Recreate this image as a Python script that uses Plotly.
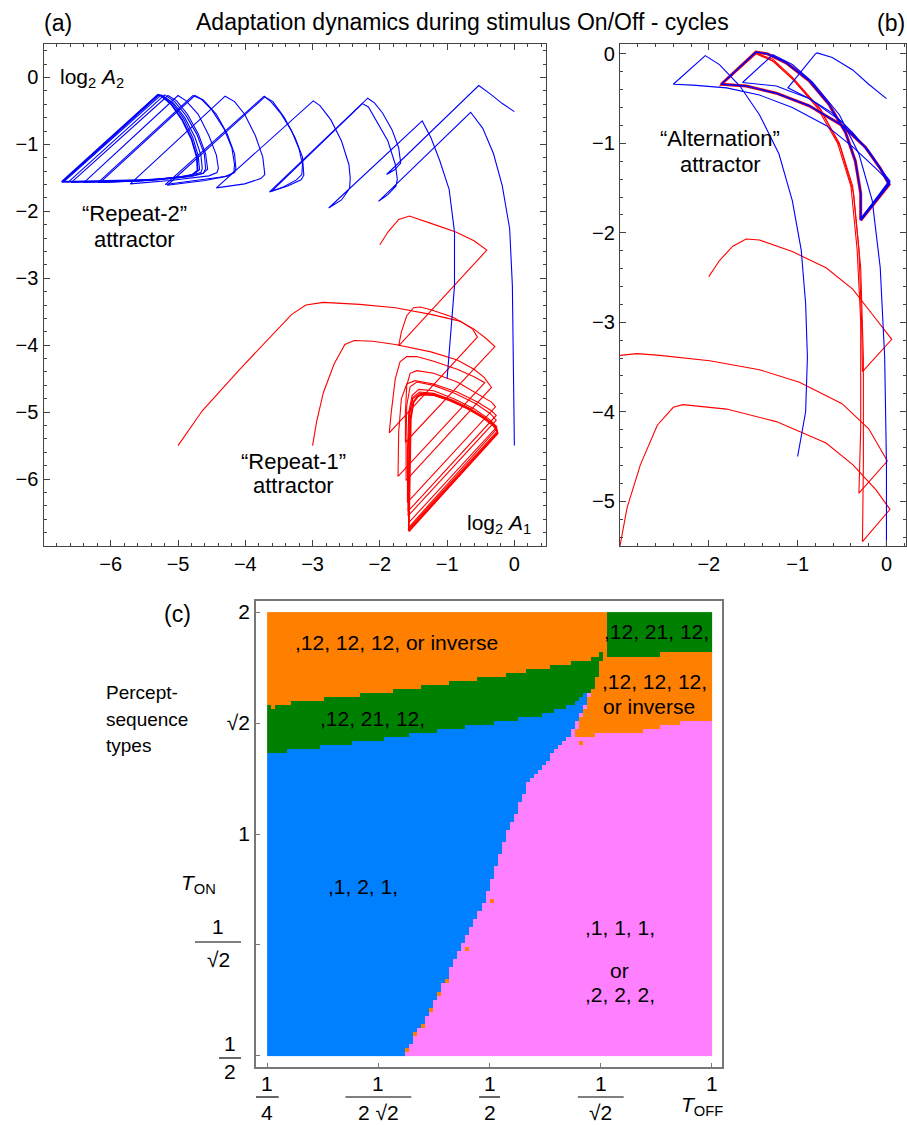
import numpy as np
import plotly.graph_objects as go

W, H = 907, 1125
FONT = "Liberation Sans, Arial, sans-serif"
BLUE, RED = "#0000FF", "#FF0000"

# ---------------- Panel (a): trajectories (log2 A1, log2 A2) ----------------
A_BLUE_1 = [(0, -0.51), (-0.18, -0.39), (-0.34, -0.26), (-0.53, -0.12),
            (-1.90, -1.45), (-1.78, -1.38), (-1.69, -1.28), (-1.72, -1.05), (-1.82, -0.78), (-1.96, -0.53), (-2.08, -0.38), (-2.18, -0.31),
            (-3.64, -1.71), (-3.42, -1.63), (-3.24, -1.53), (-3.16, -1.45), (-3.15, -1.30), (-3.20, -1.07), (-3.31, -0.80), (-3.47, -0.54), (-3.62, -0.36), (-3.72, -0.28),
            (-5.19, -1.60), (-4.70, -1.54), (-4.30, -1.48), (-4.16, -1.42), (-4.14, -1.36), (-4.16, -1.14), (-4.27, -0.84), (-4.43, -0.55), (-4.62, -0.34), (-4.75, -0.27),
            (-6.16, -1.57), (-5.49, -1.54), (-4.86, -1.48), (-4.63, -1.43), (-4.56, -1.37), (-4.59, -1.14), (-4.70, -0.84), (-4.86, -0.55), (-5.02, -0.35), (-5.15, -0.27),
            (-6.59, -1.57), (-5.90, -1.55), (-5.20, -1.51), (-4.80, -1.46), (-4.68, -1.38), (-4.70, -1.17), (-4.78, -0.90), (-4.92, -0.61), (-5.08, -0.39), (-5.22, -0.28), (-5.28, -0.26),
            (-6.71, -1.56)]
A_BLUE_2 = [(-1.0, -4.50), (-0.95, -3.91), (-0.89, -3.11), (-0.89, -2.31), (-0.97, -1.67), (-1.11, -1.24), (-1.24, -0.90), (-1.37, -0.65),
            (-2.76, -1.95), (-2.57, -1.83), (-2.45, -1.66), (-2.44, -1.50), (-2.46, -1.30), (-2.57, -0.95), (-2.73, -0.63), (-2.89, -0.42), (-2.99, -0.35),
            (-4.43, -1.65), (-4.01, -1.59), (-3.77, -1.51), (-3.71, -1.45), (-3.74, -1.19), (-3.85, -0.87), (-4.01, -0.55), (-4.16, -0.36), (-4.30, -0.28),
            (-5.71, -1.59), (-5.12, -1.54), (-4.54, -1.47), (-4.42, -1.42), (-4.40, -1.36), (-4.43, -1.16), (-4.54, -0.87), (-4.70, -0.55), (-4.88, -0.35), (-5.00, -0.27),
            (-6.40, -1.57), (-5.60, -1.55), (-4.90, -1.48), (-4.66, -1.42), (-4.64, -1.36), (-4.66, -1.16), (-4.75, -0.89), (-4.90, -0.60), (-5.07, -0.38), (-5.25, -0.26),
            (-6.70, -1.56)]
A_BLUE_3 = [(0, -5.50), (-0.02, -4.18), (-0.03, -3.11), (-0.07, -2.26), (-0.18, -1.62), (-0.31, -1.14), (-0.47, -0.76), (-0.65, -0.52),
            (-2.02, -1.85), (-1.88, -1.75), (-1.76, -1.62), (-1.74, -1.52), (-1.77, -1.30), (-1.88, -0.95), (-2.04, -0.66), (-2.17, -0.44), (-2.26, -0.39),
            (-3.61, -1.70), (-3.37, -1.62), (-3.17, -1.53), (-3.13, -1.46), (-3.15, -1.19), (-3.26, -0.90), (-3.42, -0.60), (-3.59, -0.36), (-3.71, -0.29),
            (-5.16, -1.61), (-4.60, -1.54), (-4.25, -1.47), (-4.17, -1.41), (-4.16, -1.30), (-4.20, -1.05), (-4.32, -0.76), (-4.50, -0.48), (-4.66, -0.32), (-4.78, -0.27),
            (-6.19, -1.57), (-5.40, -1.54), (-4.80, -1.48), (-4.62, -1.43), (-4.59, -1.36), (-4.61, -1.14), (-4.72, -0.85), (-4.88, -0.57), (-5.05, -0.36), (-5.20, -0.26),
            (-6.64, -1.57)]
A_BLUE_ATTR = [(-6.73, -1.56), (-6.03, -1.55), (-5.39, -1.53), (-4.96, -1.49), (-4.78, -1.45), (-4.71, -1.39), (-4.72, -1.19), (-4.80, -0.92),
               (-4.94, -0.63), (-5.10, -0.40), (-5.24, -0.28), (-5.30, -0.26), (-6.73, -1.56)]

A_RED_1 = [(-2.0, -2.50), (-1.88, -2.31), (-1.72, -2.12), (-1.56, -2.07), (-1.24, -2.18), (-0.87, -2.31), (-0.60, -2.44), (-0.41, -2.58),
           (-1.72, -4.01), (-1.68, -3.80), (-1.60, -3.56), (-1.50, -3.44), (-1.40, -3.43), (-1.24, -3.47), (-0.92, -3.58), (-0.60, -3.76), (-0.42, -3.90), (-0.29, -4.02),
           (-1.62, -5.45), (-1.62, -5.00), (-1.60, -4.60), (-1.55, -4.42), (-1.45, -4.38), (-1.20, -4.42), (-0.85, -4.55), (-0.55, -4.72), (-0.34, -4.85), (-0.28, -4.92),
           (-1.59, -6.35), (-1.59, -5.60), (-1.57, -5.00), (-1.52, -4.75), (-1.42, -4.66), (-1.20, -4.68), (-0.90, -4.80), (-0.60, -4.95), (-0.38, -5.10), (-0.26, -5.22),
           (-1.57, -6.65), (-1.56, -5.80), (-1.55, -5.10), (-1.50, -4.84), (-1.40, -4.74), (-1.20, -4.75), (-0.95, -4.83), (-0.70, -4.95), (-0.48, -5.08), (-0.32, -5.20), (-0.25, -5.30),
           (-1.57, -6.76)]
A_RED_2 = [(-5.0, -5.50), (-4.64, -4.98), (-4.11, -4.39), (-3.63, -3.88), (-3.31, -3.54), (-3.10, -3.40), (-2.84, -3.36), (-2.30, -3.39), (-1.77, -3.44),
           (-1.24, -3.54), (-0.81, -3.64), (-0.62, -3.76), (-0.55, -3.88),
           (-1.86, -5.31), (-1.83, -5.00), (-1.77, -4.50), (-1.70, -4.25), (-1.60, -4.17), (-1.45, -4.17), (-1.20, -4.24), (-0.85, -4.36), (-0.60, -4.47), (-0.44, -4.56),
           (-1.73, -5.96), (-1.72, -5.30), (-1.68, -4.80), (-1.60, -4.58), (-1.48, -4.53), (-1.20, -4.58), (-0.85, -4.70), (-0.55, -4.85), (-0.34, -4.98), (-0.27, -5.05),
           (-1.58, -6.48), (-1.58, -5.60), (-1.56, -5.00), (-1.51, -4.78), (-1.41, -4.70), (-1.20, -4.72), (-0.92, -4.82), (-0.65, -4.95), (-0.42, -5.10), (-0.26, -5.25),
           (-1.57, -6.72)]
A_RED_3 = [(-3.0, -5.50), (-2.94, -5.14), (-2.84, -4.71), (-2.68, -4.28), (-2.52, -3.99), (-2.38, -3.93), (-2.10, -3.94), (-1.77, -3.99), (-1.24, -4.10),
           (-0.85, -4.22), (-0.60, -4.36), (-0.45, -4.48), (-0.34, -4.63),
           (-1.61, -6.02), (-1.61, -5.40), (-1.60, -4.90), (-1.55, -4.62), (-1.45, -4.55), (-1.20, -4.60), (-0.88, -4.72), (-0.58, -4.87), (-0.36, -5.02), (-0.27, -5.12),
           (-1.58, -6.55), (-1.57, -5.70), (-1.56, -5.05), (-1.51, -4.80), (-1.40, -4.72), (-1.20, -4.73), (-0.95, -4.82), (-0.68, -4.94), (-0.45, -5.08), (-0.29, -5.20), (-0.25, -5.28),
           (-1.57, -6.74)]
A_RED_ATTR = [(-1.57, -6.78), (-1.56, -6.20), (-1.55, -5.60), (-1.54, -5.10), (-1.50, -4.85), (-1.43, -4.76), (-1.35, -4.73), (-1.20, -4.74),
              (-0.97, -4.82), (-0.72, -4.93), (-0.50, -5.05), (-0.34, -5.16), (-0.27, -5.25), (-0.25, -5.32), (-1.57, -6.78)]

# ---------------- Panel (b) ----------------
B_ALT_ATTR = [(-0.29, -1.86), (-0.29, -1.56), (-0.35, -1.20), (-0.46, -0.88), (-0.65, -0.56), (-0.87, -0.30), (-1.13, -0.10), (-1.34, 0.0), (-1.47, 0.02),
              (-1.86, -0.34), (-1.58, -0.36), (-1.24, -0.44), (-0.87, -0.58), (-0.50, -0.80), (-0.24, -1.04), (-0.07, -1.28), (0.03, -1.46), (-0.29, -1.86)]
B_BLUE_1 = [(0, -0.50), (-0.20, -0.34), (-0.38, -0.18), (-0.61, -0.04), (-0.78, 0.01), (-0.80, 0.0),
            (-1.11, -0.38), (-0.87, -0.50), (-0.61, -0.66), (-0.38, -0.88), (-0.20, -1.10), (-0.06, -1.30), (0.04, -1.42), (-0.29, -1.84)]
B_BLUE_2 = [(-1.0, -4.50), (-0.91, -4.00), (-0.89, -3.39), (-0.91, -2.79), (-0.96, -2.19), (-1.06, -1.64), (-1.21, -1.12), (-1.43, -0.68),
            (-1.65, -0.36), (-1.88, -0.12), (-2.04, -0.02), (-2.40, -0.34), (-2.18, -0.35), (-1.80, -0.38), (-1.43, -0.46), (-1.06, -0.60),
            (-0.68, -0.80), (-0.38, -1.04), (-0.12, -1.28), (0.04, -1.44), (-0.29, -1.86)]
B_BLUE_3 = [(0, -5.50), (0, -4.59), (-0.02, -3.39), (-0.07, -2.39), (-0.16, -1.64), (-0.31, -1.12), (-0.53, -0.68), (-0.83, -0.32), (-1.06, -0.12),
            (-1.28, -0.01), (-1.62, -0.32), (-1.24, -0.36), (-0.87, -0.50), (-0.50, -0.76), (-0.20, -1.08), (0.03, -1.42), (-0.29, -1.85)]
B_RED_1 = [(-2.0, -2.49), (-1.88, -2.31), (-1.73, -2.15), (-1.58, -2.07), (-1.43, -2.08), (-1.06, -2.21), (-0.68, -2.39), (-0.38, -2.63), (-0.16, -2.91), (0.06, -3.19),
           (-0.27, -3.55), (-0.28, -2.99), (-0.31, -2.19), (-0.38, -1.48), (-0.53, -1.00), (-0.76, -0.60), (-1.06, -0.26), (-1.28, -0.06), (-1.47, 0.01), (-1.88, -0.36)]
B_RED_2 = [(-3.0, -3.37), (-2.81, -3.35), (-2.55, -3.37), (-1.99, -3.43), (-1.43, -3.53), (-0.98, -3.67), (-0.50, -3.91), (-0.20, -4.19), (0.01, -4.55),
           (-0.31, -4.91), (-0.29, -4.19), (-0.29, -2.99), (-0.33, -2.19), (-0.40, -1.48), (-0.55, -1.00), (-0.78, -0.60), (-1.06, -0.28), (-1.28, -0.08), (-1.47, 0.0), (-1.87, -0.35)]
B_RED_3 = [(-3.0, -5.50), (-2.92, -5.07), (-2.77, -4.59), (-2.58, -4.15), (-2.40, -3.95), (-2.29, -3.92), (-1.80, -3.97), (-1.24, -4.11), (-0.68, -4.35), (-0.38, -4.59),
           (-0.12, -4.87), (0.04, -5.09), (-0.27, -5.45), (-0.26, -4.59), (-0.26, -3.39), (-0.29, -2.39), (-0.37, -1.56), (-0.52, -1.04), (-0.74, -0.62), (-1.04, -0.30),
           (-1.26, -0.09), (-1.46, 0.01), (-1.86, -0.35)]

# ---------------- Panel (c): region boundaries in log2 units ----------------
BP_Y = [-1.0, -0.82, -0.66, -0.45, -0.26, 0.0, 0.23, 0.34, 0.44, 0.57, 0.63]          # blue | pink boundary
BP_X = [-1.388, -1.284, -1.198, -1.095, -1.009, -0.922, -0.828, -0.733, -0.647, -0.578, -0.56]
GLO_X = [-2.0, -1.836, -1.560, -1.319, -0.974, -0.733, -0.629, -0.578]                  # green over blue
GLO_Y = [0.359, 0.383, 0.415, 0.452, 0.500, 0.543, 0.582, 0.630]
GUP_X = [-2.0, -1.836, -1.560, -1.319, -0.974, -0.716, -0.543, -0.50]                  # orange over green
GUP_Y = [0.578, 0.598, 0.630, 0.662, 0.710, 0.758, 0.790, 0.818]
RO_Y = [0.44, 0.58, 0.64, 0.71, 0.81]                                                 # right orange, left edge
RO_X = [-0.62, -0.57, -0.545, -0.517, -0.49]
PUP_X = [-0.612, -0.457, -0.319, -0.147, 0.0]                                         # pink top (right)
PUP_Y = [0.439, 0.452, 0.463, 0.500, 0.511]
GRL_X = [-0.483, -0.284, -0.112, 0.0]                                                 # top-right green bottom
GRL_Y = [0.802, 0.806, 0.818, 0.825]
GR_LEFT = -0.475
# isolated orange cells seen along the blue/pink border
SPECKLE_X = [-1.37, -1.33, -1.30, -1.26, -1.22, -1.19, -1.10, -0.99, -0.60, -1.98]
SPECKLE_Y = [-0.97, -0.90, -0.86, -0.79, -0.72, -0.67, -0.52, -0.30, 0.40, 0.57]
REGION_COLORS = ["#FF80FF", "#0080FF", "#008000", "#FF7F00"]  # pink, blue, green, orange

NX, NY = 110, 110
xe = np.linspace(-2, 0, NX + 1)
ye = np.linspace(-1, 1, NY + 1)
xc = (xe[:-1] + xe[1:]) / 2
yc = (ye[:-1] + ye[1:]) / 2
XX, YY = np.meshgrid(xc, yc)
Z = np.zeros_like(XX, dtype=int)
Z[XX < np.interp(YY, BP_Y, BP_X)] = 1
Z[YY >= np.interp(XX, GLO_X, GLO_Y)] = 2
Z[YY >= np.interp(XX, GUP_X, GUP_Y)] = 3
Z[(XX >= np.interp(YY, RO_Y, RO_X)) & (YY >= np.interp(XX, PUP_X, PUP_Y))] = 3
Z[(XX >= GR_LEFT) & (YY >= np.interp(XX, GRL_X, GRL_Y))] = 2
for sx, sy in zip(SPECKLE_X, SPECKLE_Y):
    Z[np.argmin(abs(yc - sy)), np.argmin(abs(xc - sx))] = 3

fig = go.Figure()


def add(pts, color, width, xa, ya):
    xs, ys = zip(*pts)
    fig.add_trace(go.Scatter(x=list(xs), y=list(ys), mode="lines", line=dict(color=color, width=width),
                             xaxis=xa, yaxis=ya, showlegend=False, hoverinfo="skip"))


for tr in (A_RED_1, A_RED_2, A_RED_3):
    add(tr, RED, 1.1, "x", "y")
add(A_RED_ATTR, RED, 1.8, "x", "y")
for tr in (A_BLUE_1, A_BLUE_2, A_BLUE_3):
    add(tr, BLUE, 1.1, "x", "y")
add(A_BLUE_ATTR, BLUE, 1.8, "x", "y")

for tr in (B_RED_1, B_RED_2, B_RED_3):
    add(tr, RED, 1.1, "x2", "y2")
add(B_ALT_ATTR, RED, 3.0, "x2", "y2")
for tr in (B_BLUE_1, B_BLUE_2, B_BLUE_3):
    add(tr, BLUE, 1.1, "x2", "y2")
add(B_ALT_ATTR, BLUE, 1.6, "x2", "y2")

cs = []
for i, c in enumerate(REGION_COLORS):
    cs += [[i / 4, c], [(i + 1) / 4, c]]
fig.add_trace(go.Heatmap(x=xc, y=yc, z=Z, zmin=-0.5, zmax=3.5, colorscale=cs, showscale=False,
                         xaxis="x3", yaxis="y3", hoverinfo="skip", zsmooth=False))


def px(x):
    return x / W


def py(y):
    return 1 - y / H


ax_common = dict(showgrid=False, zeroline=False, showline=True, linewidth=1.3, linecolor="#444",
                 ticks="inside", ticklen=6, tickwidth=1, tickcolor="#444", mirror="ticks",
                 tickfont=dict(family=FONT, size=20, color="black"))
minor = dict(ticks="inside", ticklen=3, tickwidth=1, tickcolor="#444", dtick=0.2, tick0=0)
fig.update_layout(
    width=W, height=H, margin=dict(l=0, r=0, t=0, b=0), plot_bgcolor="white", paper_bgcolor="white",
    font=dict(family=FONT, color="black"),
    xaxis=dict(domain=[px(43.5), px(546)], range=[-7.0, 0.47], anchor="y", tickvals=[-6, -5, -4, -3, -2, -1, 0],
               minor=minor, **ax_common),
    yaxis=dict(domain=[py(546), py(44)], range=[-7.0, 0.5], anchor="x", tickvals=[-6, -5, -4, -3, -2, -1, 0],
               minor=minor, **ax_common),
    xaxis2=dict(domain=[px(620), px(906)], range=[-3.0, 0.22], anchor="y2", tickvals=[-2, -1, 0],
                minor=minor, **ax_common),
    yaxis2=dict(domain=[py(546), py(44)], range=[-5.5, 0.11], anchor="x2", tickvals=[-5, -4, -3, -2, -1, 0],
                minor=minor, **ax_common),
    xaxis3=dict(domain=[px(256), px(722)], range=[-2.05, 0.045], anchor="y3", showgrid=False, zeroline=False,
                showline=True, linecolor="#777", linewidth=1.5, mirror=True, ticks="inside", ticklen=4,
                tickcolor="#777", tickvals=[-2, -1.5, -1, -0.5, 0], showticklabels=False),
    yaxis3=dict(domain=[py(1067), py(601)], range=[-1.05, 1.05], anchor="x3", showgrid=False, zeroline=False,
                showline=True, linecolor="#777", linewidth=1.5, mirror=True, ticks="inside", ticklen=4,
                tickcolor="#777", tickvals=[0, 0.5, 1], ticktext=["1", "√2", "2"],
                minor=dict(tickvals=[-1, -0.5], ticks="inside", ticklen=4, tickcolor="#777"),
                tickfont=dict(family=FONT, size=21, color="black")),
)

ann = []


def text(x, y, s, size=21, xanchor="center", xref="paper", yref="paper"):
    ann.append(dict(x=x, y=y, text=s, xref=xref, yref=yref, showarrow=False, xanchor=xanchor, yanchor="middle",
                    font=dict(family=FONT, size=size, color="black")))


# panel headers
text(px(58), py(23), "(a)", 23)
text(px(462), py(22), "Adaptation dynamics during stimulus On/Off - cycles", 23)
text(px(891), py(23), "(b)", 23)
text(px(58), py(78), "log<sub>2</sub> <i>A</i><sub>2</sub>", 21, "left")
text(px(533), py(524), "log<sub>2</sub> <i>A</i><sub>1</sub>", 21, "right")
text(px(134), py(213), "“Repeat-2”", 22)
text(px(134), py(239), "attractor", 22)
text(px(293), py(461), "“Repeat-1”", 22)
text(px(293), py(486), "attractor", 22)
text(px(720), py(139), "“Alternation”", 22)
text(px(720), py(164), "attractor", 22)

# panel (c)
text(px(177), py(614), "(c)", 23)
text(px(104), py(692), "Percept-", 19, "left")
text(px(104), py(719), "sequence", 19, "left")
text(px(104), py(745), "types", 19, "left")
text(px(198), py(884), "<i>T</i><sub>ON</sub>", 21)
text(px(702), py(1106), "<i>T</i><sub>OFF</sub>", 21)

REGION_LABELS = [(-1.42, 0.861, ",12, 12, 12, or inverse"), (-1.526, 0.522, ",12, 21, 12,"),
                 (-0.25, 0.914, ",12, 21, 12,"), (-0.26, 0.686, ",12, 12, 12,"), (-0.285, 0.574, "or inverse"),
                 (-1.569, -0.238, ",1, 2, 1,"), (-0.414, -0.42, ",1, 1, 1,"), (-0.414, -0.613, "or"),
                 (-0.414, -0.724, ",2, 2, 2,")]
for lx, ly, s in REGION_LABELS:
    text(lx, ly, s, 21, xref="x3", yref="y3")

# x-axis fraction tick labels of (c)
X_FRACS = [(-2, "4", 0.052), (-1.5, "2 √2", 0.148), (-1, "2", 0.047), (-0.5, "√2", 0.103)]
shapes = []
for tv, den, hw in X_FRACS:
    text(tv, py(1083), "1", 21, xref="x3")
    text(tv, py(1112), den, 21, xref="x3")
    shapes.append(dict(type="line", xref="x3", yref="paper", x0=tv - hw, x1=tv + hw, y0=py(1097), y1=py(1097),
                       line=dict(color="black", width=1.2)))
text(0, py(1083), "1", 21, xref="x3")

# y-axis fraction tick labels of (c)
Y_FRACS = [(218, 926, 942, 959, 195, 241, "√2"), (230, 1043, 1058, 1071, 219, 241, "2")]
for cx, yn, yb, yd, x0, x1, den in Y_FRACS:
    text(px(cx), py(yn), "1", 21)
    text(px(cx), py(yd), den, 21)
    shapes.append(dict(type="line", xref="paper", yref="paper", x0=px(x0), x1=px(x1), y0=py(yb), y1=py(yb),
                       line=dict(color="black", width=1.2)))

fig.update_layout(annotations=ann, shapes=shapes)
fig.write_html("out.html", config={"displayModeBar": False},
               post_script="document.body.style.margin='0px';document.body.style.overflow='hidden';")
